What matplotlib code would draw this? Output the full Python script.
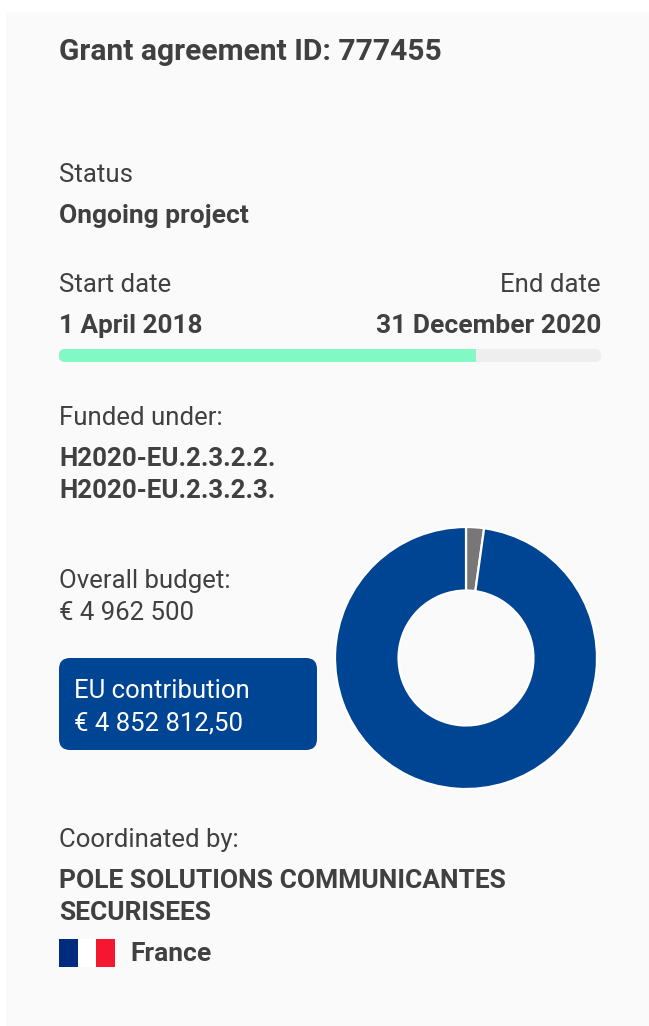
# Grant summary card with donut chart
import matplotlib
matplotlib.use("Agg")
import matplotlib.pyplot as plt
from matplotlib.patches import FancyBboxPatch, Rectangle

plt.rcParams['font.family'] = ['Roboto', 'DejaVu Sans']

# data
grant_title = "Grant agreement ID: 777455"
status_label = "Status"
status_value = "Ongoing project"
start_label = "Start date"
end_label = "End date"
start_value = "1 April 2018"
end_value = "31 December 2020"
progress_share = 0.769
funded_label = "Funded under:"
funded_values = ["H2020-EU.2.3.2.2.", "H2020-EU.2.3.2.3."]
budget_label = "Overall budget:"
budget_text = "€ 4 962 500"
eu_label = "EU contribution"
eu_text = "€ 4 852 812,50"
donut_values = [109687.5, 4852812.5]   # reszta, wklad UE
coord_label = "Coordinated by:"
coord_names = ["POLE SOLUTIONS COMMUNICANTES", "SECURISEES"]
country = "France"

BLUE = "#004494"
GREY = "#777777"
TEXT = "#404040"
PANEL = "#fafafa"

W, H = 649, 1026
fig = plt.figure(figsize=(W / 100, H / 100), dpi=100, facecolor="white")

# main axes in pixel coordinates
ax = fig.add_axes([0, 0, 1, 1])
ax.set_xlim(0, W)
ax.set_ylim(H, 0)
ax.axis("off")

ax.add_patch(Rectangle((6, 12), W - 6, H - 12, fc=PANEL, ec="none"))


def label(x, y, s, bold=False, size=None, color=TEXT, ha="left"):
    if size is None:
        size = 19 if bold else 18.55
    ax.text(x, y, s, fontsize=size, color=color, ha=ha, va="center",
            fontweight="bold" if bold else "normal")


label(59, 52, grant_title, bold=True, size=21.6)
label(59, 175, status_label)
label(59, 216, status_value, bold=True)
label(59, 285, start_label)
label(601, 285, end_label, ha="right")
label(59, 326, start_value, bold=True, size=18.8)
label(601, 326, end_value, bold=True, ha="right")

# progress bar
bar_x, bar_w, bar_y, bar_h = 59, 542, 349, 13
track = FancyBboxPatch((bar_x, bar_y), bar_w, bar_h, boxstyle="round,pad=0,rounding_size=6",
                       fc="#eeeeee", ec="none")
ax.add_patch(track)
done = Rectangle((bar_x, bar_y), bar_w * progress_share, bar_h, fc="#82f8c4", ec="none")
ax.add_patch(done)
done.set_clip_path(track)

label(59, 418, funded_label)
label(59, 459, funded_values[0], bold=True, size=18.6)
label(59, 491, funded_values[1], bold=True, size=18.6)

label(59, 581, budget_label)
label(59, 613, budget_text)

ax.add_patch(FancyBboxPatch((59, 658), 258, 92, boxstyle="round,pad=0,rounding_size=11",
                            fc=BLUE, ec="none"))
label(74, 691, eu_label, color="white")
label(74, 723, eu_text, color="white")

label(59, 840, coord_label)
label(59, 881, coord_names[0], bold=True)
label(59, 913, coord_names[1], bold=True)

# flag
ax.add_patch(Rectangle((59, 939), 19, 28, fc="#002b7f", ec="none"))
ax.add_patch(Rectangle((78, 939), 18, 28, fc="white", ec="none"))
ax.add_patch(Rectangle((96, 939), 19, 28, fc="#f5162f", ec="none"))
label(130, 954, country, bold=True)

# donut
cx, cy, r = 466, 658, 131
ax2 = fig.add_axes([(cx - r) / W, 1 - (cy + r) / H, 2 * r / W, 2 * r / H])
ax2.pie(donut_values, colors=[GREY, BLUE], startangle=90, counterclock=False, radius=1,
        wedgeprops=dict(width=0.485, edgecolor="white", linewidth=1.6))
ax2.set_xlim(-1, 1)
ax2.set_ylim(-1, 1)

fig.savefig("out.png", dpi=100, facecolor="white")
